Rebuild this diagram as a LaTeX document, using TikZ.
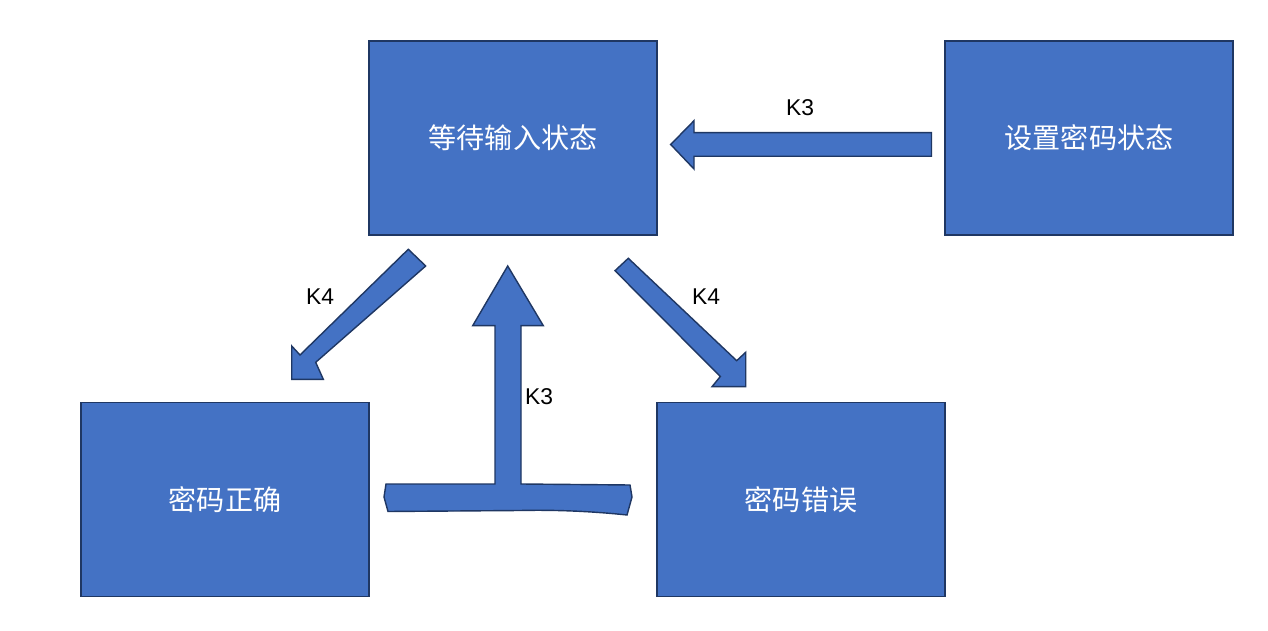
\documentclass[tikz,border=0pt]{standalone}
\usepackage{fontspec}
\setmainfont{Liberation Sans}
\newfontfamily\cjk{Noto Sans CJK SC}
\definecolor{boxfill}{HTML}{4472C4}
\definecolor{boxline}{HTML}{1F3763}
\begin{document}
\begin{tikzpicture}[x=0.02cm,y=-0.02cm,
  statebox/.style={draw=boxline,fill=boxfill,line width=1.1pt,minimum width=5.76cm,minimum height=3.88cm,inner sep=0pt,text=white,font=\cjk\fontsize{16}{18}\selectfont},
  blockarrow/.style={draw=boxline,fill=boxfill,line width=0.8pt,line join=miter},
  klabel/.style={font=\fontsize{13}{15}\selectfont,text=black,inner sep=0pt}]
\useasboundingbox (0,0) rectangle (1268,631);
\fill[white] (0,0) rectangle (1268,631);
\node[statebox] (wait) at (513,138) {等待输入状态};
\node[statebox] (set) at (1089,138) {设置密码状态};
\node[statebox] (ok) at (225,499.5) {密码正确};
\node[statebox] (err) at (801,499.5) {密码错误};
% top arrow (set -> wait)
\draw[blockarrow] (931.5,132.7) -- (694,132.7) -- (694,120.7) -- (670.7,144.5) -- (694,169) -- (694,156.3) -- (931.5,156.3) -- cycle;
% left diagonal arrow (wait -> ok)
\draw[blockarrow] (408.3,249.3) -- (425.7,266) -- (315.7,362.3) -- (323.3,379.3) -- (291.7,379.3) -- (291.7,346) -- (300,355) -- cycle;
% right diagonal arrow (wait -> err)
\draw[blockarrow] (615,270.7) -- (628.3,258.3) -- (736.7,360.7) -- (745.7,352.3) -- (745.7,386.7) -- (712,386.7) -- (720.3,376.5) -- cycle;
% T arrow (ok/err -> wait)
\draw[blockarrow] (507.7,266) -- (543.3,325.7) -- (521,325.7) -- (521,484) -- (630,485) -- (632,497) -- (627,515) .. controls (580,510) and (540,510) .. (520,510.5) -- (388,511.5) -- (384,497) -- (386,484) -- (495,484) -- (495,325.7) -- (472.7,325.7) -- cycle;
\node[klabel] (k3a) at (800,108) {K3};
\node[klabel] (k4a) at (320,297) {K4};
\node[klabel] (k4b) at (706,297) {K4};
\node[klabel] (k3b) at (539,397) {K3};
\end{tikzpicture}
\end{document}
